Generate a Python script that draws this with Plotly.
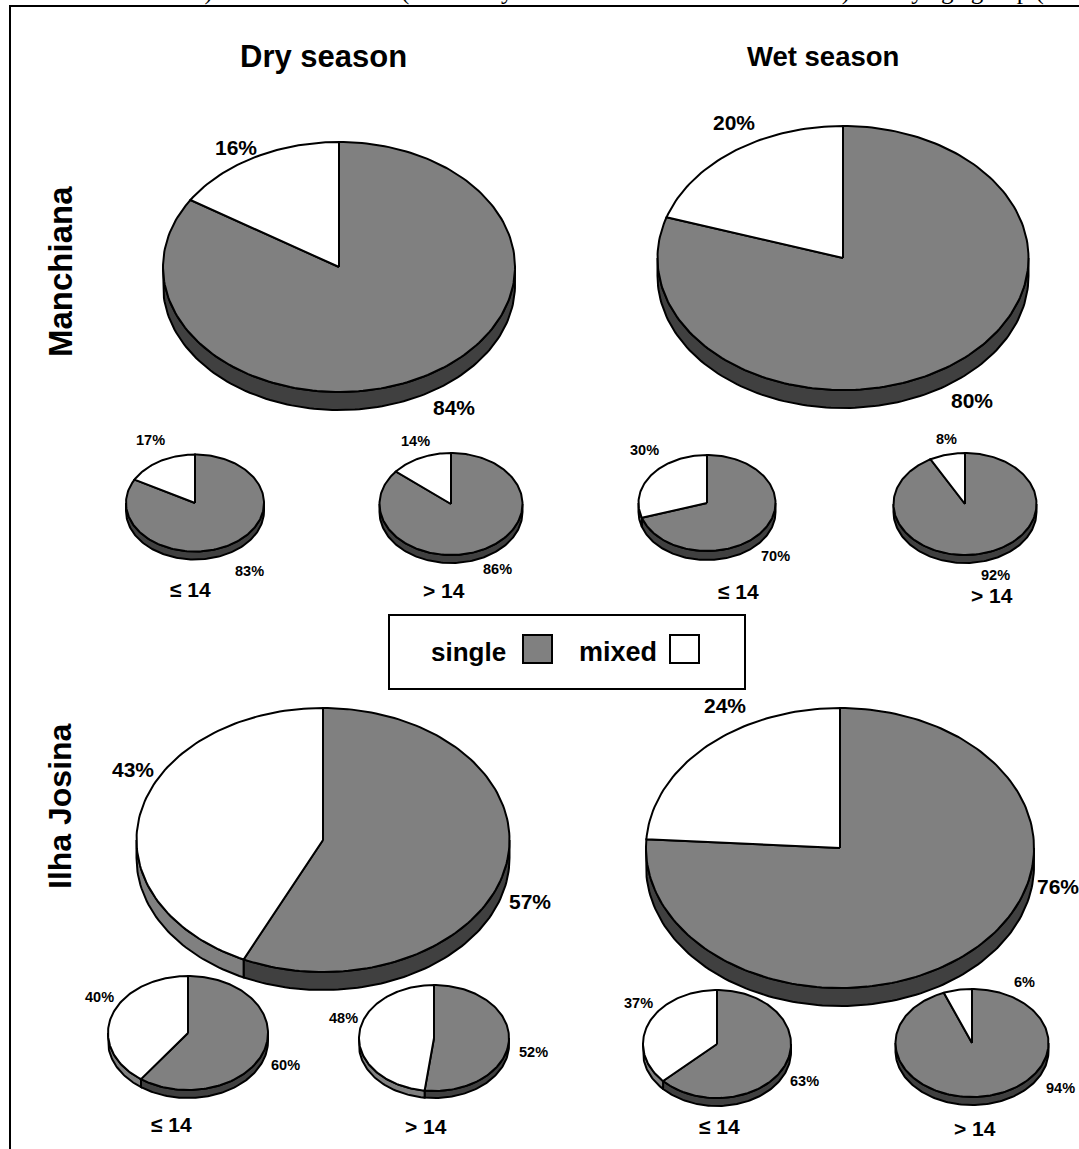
import math
import plotly.graph_objects as go

# ---------- data ----------
panels = ["Manchiana dry", "Manchiana wet", "Ilha Josina dry", "Ilha Josina wet",
          "Manchiana dry <=14", "Manchiana dry >14", "Manchiana wet <=14", "Manchiana wet >14",
          "Ilha Josina dry <=14", "Ilha Josina dry >14", "Ilha Josina wet <=14", "Ilha Josina wet >14"]
single_pct = [84, 80, 57, 76, 83, 86, 70, 92, 60, 52, 63, 94]
mixed_pct = [16, 20, 43, 24, 17, 14, 30, 8, 40, 48, 37, 6]
season_titles = ["Dry season", "Wet season"]
site_titles = ["Manchiana", "Ilha Josina"]
age_labels = ["≤ 14", "> 14", "≤ 14", "> 14", "≤ 14", "> 14", "≤ 14", "> 14"]
legend_names = ["single", "mixed"]
caption = "= Wet season) and in Ilha Josina (Fall = Dry season and Winter = Wet season) and by age group ("

# ---------- layout (pixel frame, separate from values) ----------
W, H = 1079, 1149
# cx, cy, rx, ry, depth
geom = [(339, 267, 176, 125, 18), (843, 258, 185.5, 132, 18),
        (323, 840, 186.5, 132, 18), (840, 848, 194, 140, 18),
        (195, 503, 69, 48.5, 8), (451, 504, 71.5, 51, 8),
        (707, 503, 68.5, 48, 9), (965, 504, 71.5, 51, 8),
        (188, 1033, 80, 57, 8), (434, 1038, 75, 53, 7),
        (717, 1044, 74, 54, 8), (972, 1043, 76.5, 54, 8)]
single_pos = [(454, 407), (972, 400), (530, 901), (1058, 886),
              (249, 571), (497, 569), (775, 556), (995, 575),
              (285, 1065), (533, 1052), (804, 1081), (1060, 1088)]
mixed_pos = [(236, 147), (734, 122), (133, 769), (725, 705),
             (150, 440), (415, 441), (644, 450), (946, 439),
             (99, 997), (343, 1018), (638, 1003), (1024, 982)]
age_pos = [(190, 589), (444, 590), (738, 591), (992, 595),
           (171, 1124), (426, 1126), (719, 1126), (975, 1128)]
GREY, DARK = "#808080", "#404040"
INK = "#000000"
FONT = "Liberation Sans"


def pt(g, a, drop=0.0):
    cx, cy, rx, ry, _ = g
    r = math.radians(a)
    return cx + rx * math.sin(r), cy - ry * math.cos(r) + drop


def arc(a0, a1):
    n = max(2, int(abs(a1 - a0) / 1.5) + 1)
    return [a0 + (a1 - a0) * i / n for i in range(n + 1)]


fig = go.Figure()


def poly(xs, ys, fill, name):
    fig.add_trace(go.Scatter(x=xs, y=ys, mode="lines", fill="toself", fillcolor=fill,
                             line=dict(color=INK, width=2), name=name,
                             hoverinfo="name", showlegend=False))


for i, g in enumerate(geom):
    split = single_pct[i] / (single_pct[i] + mixed_pct[i]) * 360
    slices = [(0, split, GREY, DARK, "single"), (split, 360, "#ffffff", GREY, "mixed")]
    # rim: visible only on the lower half of the disc
    for a0, a1, _, rim, nm in slices:
        lo, hi = max(a0, 90), min(a1, 270)
        if hi > lo:
            top = [pt(g, a) for a in arc(lo, hi)]
            bot = [pt(g, a, g[4]) for a in arc(hi, lo)]
            ring = top + bot + top[:1]
            poly([p[0] for p in ring], [p[1] for p in ring], rim, nm)
    for a0, a1, face, _, nm in slices:
        edge = [pt(g, a) for a in arc(a0, a1)]
        ring = [(g[0], g[1])] + edge + [(g[0], g[1])]
        poly([p[0] for p in ring], [p[1] for p in ring], face, nm)

ann = []


def label(x, y, text, size, angle=0, family=FONT, bold=True, **kw):
    ann.append(dict(x=x, y=y, xref="x", yref="y", text=f"<b>{text}</b>" if bold else text,
                    showarrow=False, textangle=angle, font=dict(family=family, size=size, color=INK), **kw))


for i in range(len(panels)):
    size = 21 if i < 4 else 14.5
    label(*single_pos[i], f"{single_pct[i]}%", size)
    label(*mixed_pos[i], f"{mixed_pct[i]}%", size)
for (x, y), t in zip(age_pos, age_labels):
    label(x, y, t, 21)

label(323, 56, season_titles[0], 31)
label(823, 56, season_titles[1], 27.5)
label(60, 272, site_titles[0], 33, angle=-90)
label(60, 806, site_titles[1], 32, angle=-90)
label(468, 652, legend_names[0], 26)
label(618, 652, legend_names[1], 27)
label(558, 7, caption, 25, family="Liberation Serif", bold=False, yanchor="bottom")

line2 = dict(color=INK, width=2)
shapes = [
    dict(type="line", xref="x", yref="y", x0=9, x1=W + 5, y0=6, y1=6, line=line2),
    dict(type="line", xref="x", yref="y", x0=10, x1=10, y0=5, y1=H + 5, line=line2),
    dict(type="rect", xref="x", yref="y", x0=389, x1=745, y0=615, y1=689, line=line2, fillcolor="#ffffff", layer="below"),
    dict(type="rect", xref="x", yref="y", x0=523, x1=552, y0=635, y1=663, line=line2, fillcolor=GREY),
    dict(type="rect", xref="x", yref="y", x0=670, x1=699, y0=635, y1=663, line=line2, fillcolor="#ffffff"),
]

fig.update_layout(width=W, height=H, margin=dict(l=0, r=0, t=0, b=0),
                  paper_bgcolor="#ffffff", plot_bgcolor="#ffffff", showlegend=False,
                  annotations=ann, shapes=shapes,
                  xaxis=dict(range=[0, W], visible=False, fixedrange=True),
                  yaxis=dict(range=[H, 0], visible=False, fixedrange=True))
fig.write_html("out.html", config={"displayModeBar": False},
               post_script="document.body.style.margin='0';document.documentElement.style.overflow='hidden';")
